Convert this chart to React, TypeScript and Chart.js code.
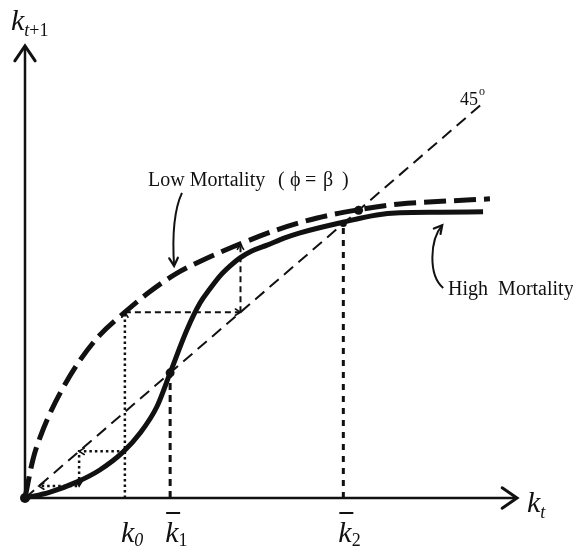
import React, { useEffect, useRef } from "react";
import { Chart, registerables } from "chart.js";
Chart.register(...registerables);

// ---- data (k_t on x, k_{t+1} on y; 45° line is y = x) ----
const lowK = [0, 0.16, 0.31, 0.51, 0.75, 1.12, 1.52, 2.03, 2.5, 3.09, 3.62, 4.23, 5.12, 5.94, 6.77, 7.62, 8.29, 9.45];
const lowV = [0, 0.9, 1.44, 2.0, 2.55, 3.25, 3.84, 4.38, 4.83, 5.3, 5.61, 5.92, 6.32, 6.6, 6.79, 6.93, 6.98, 7.05];
const highK = [0, 0.51, 1.06, 1.52, 1.99, 2.34, 2.68, 2.95, 3.29, 3.56, 3.76, 3.96, 4.17, 4.37, 4.61, 4.92, 5.28, 5.59, 6.46, 7.15, 7.62, 8.44, 9.31];
const highV = [0, 0.14, 0.38, 0.66, 1.08, 1.53, 2.15, 2.95, 3.96, 4.6, 4.93, 5.23, 5.47, 5.66, 5.82, 5.96, 6.13, 6.25, 6.5, 6.67, 6.72, 6.735, 6.745];
const diagEnd = 9.35;
const k0 = 2.03;
const kBar1 = 2.95;
const kBar2 = 6.47;
const kLowSS = 6.78;
const kL1 = 4.38; // next capital under low mortality
const kL1Up = 5.98; // low curve at kL1
const kH1 = 1.1; // next capital under high mortality
const kH2 = 0.28;
const X_MAX = 10;
const Y_MAX = 10.7;

// annotation anchors (data units)
const lowArrow = [[3.19, 7.19], [3.03, 6.79], [2.99, 6.2], [3.03, 5.47]];
const highArrow = [[8.5, 4.95], [8.19, 5.26], [8.23, 6.08], [8.48, 6.43]];
const lowLabelPos = [2.5, 7.35];
const highLabelPos = [8.6, 4.78];
const degLabelPos = [8.84, 9.26];

const lowLabelParts = ["Low Mortality", "(", "ϕ", "=", "β", ")"];
const lowLabelOffsets = [0, 130, 142, 157, 175, 194];
const highLabel = "High  Mortality";

const INK = "#111111";
const SERIF = "'Liberation Serif', 'Times New Roman', 'DejaVu Serif', serif";

function pts(xs: number[], ys: number[]) {
  return xs.map((x, i) => ({ x, y: ys[i] }));
}

function chevron(ctx: CanvasRenderingContext2D, x: number, y: number, ang: number, len: number, h: number, lw: number) {
  ctx.save();
  ctx.lineWidth = lw;
  ctx.lineCap = "round";
  ctx.lineJoin = "miter";
  ctx.beginPath();
  ctx.moveTo(x - len * Math.cos(ang + h), y - len * Math.sin(ang + h));
  ctx.lineTo(x, y);
  ctx.lineTo(x - len * Math.cos(ang - h), y - len * Math.sin(ang - h));
  ctx.stroke();
  ctx.restore();
}

const diagramPlugin = {
  id: "diagram",
  beforeDatasetsDraw(chart: any) {
    const { ctx, chartArea: a } = chart;
    ctx.save();
    ctx.strokeStyle = INK;
    ctx.lineWidth = 2.5;
    ctx.beginPath();
    ctx.moveTo(a.left, a.bottom);
    ctx.lineTo(a.right, a.bottom);
    ctx.moveTo(a.left, a.bottom);
    ctx.lineTo(a.left, a.top + 2);
    ctx.stroke();
    chevron(ctx, a.right, a.bottom, 0, 18, 0.6, 3);
    chevron(ctx, a.left, a.top + 2, -Math.PI / 2, 18, 0.6, 3);
    ctx.restore();
  },
  afterDatasetsDraw(chart: any) {
    const { ctx, chartArea: a } = chart;
    const xs = chart.scales.x;
    const ys = chart.scales.y;
    const px = (v: number) => xs.getPixelForValue(v);
    const py = (v: number) => ys.getPixelForValue(v);
    ctx.save();
    ctx.fillStyle = INK;
    ctx.strokeStyle = INK;
    ctx.textBaseline = "alphabetic";
    ctx.textAlign = "left";

    // small construction arrowheads
    const small = (xv: number, yv: number, ang: number) => chevron(ctx, px(xv), py(yv), ang, 6, 0.55, 1.6);
    small(kL1, kL1, 0);
    small(kL1, kL1Up, -Math.PI / 2);
    small(k0, kL1, -Math.PI / 2);
    small(kH1, kH1, Math.PI);
    small(kH1, kH2, Math.PI / 2);
    small(kH2, kH2, Math.PI);

    // curved annotation arrows
    const drawArrow = (p: number[][]) => {
      const q = p.map(([u, v]) => [px(u), py(v)]);
      ctx.save();
      ctx.lineWidth = 2;
      ctx.beginPath();
      ctx.moveTo(q[0][0], q[0][1]);
      ctx.bezierCurveTo(q[1][0], q[1][1], q[2][0], q[2][1], q[3][0], q[3][1]);
      ctx.stroke();
      const ang = Math.atan2(q[3][1] - q[2][1], q[3][0] - q[2][0]);
      chevron(ctx, q[3][0], q[3][1], ang, 9, 0.5, 2.2);
      ctx.restore();
    };
    drawArrow(lowArrow);
    drawArrow(highArrow);

    // text labels
    ctx.font = `20px ${SERIF}`;
    const lx = px(lowLabelPos[0]);
    const ly = py(lowLabelPos[1]);
    lowLabelParts.forEach((t, i) => ctx.fillText(t, lx + lowLabelOffsets[i], ly));
    ctx.fillText(highLabel, px(highLabelPos[0]), py(highLabelPos[1]));
    ctx.font = `18px ${SERIF}`;
    const dx = px(degLabelPos[0]);
    const dy = py(degLabelPos[1]);
    ctx.fillText("45", dx, dy);
    const w45 = ctx.measureText("45").width;
    ctx.font = `12px ${SERIF}`;
    ctx.fillText("o", dx + w45 + 1, dy - 10);

    const kFont = `italic 30px ${SERIF}`;
    const subI = `italic 18px ${SERIF}`;
    const subR = `18px ${SERIF}`;
    const runs = (x: number, y: number, parts: [string, string, number][]) => {
      let cx = x;
      for (const [t, f, dyy] of parts) {
        ctx.font = f;
        ctx.fillText(t, cx, y + dyy);
        cx += ctx.measureText(t).width;
      }
    };
    // axis titles
    runs(a.left - 14, a.top - 14, [["k", kFont, 0], ["t", subI, 6], ["+1", subR, 6]]);
    runs(a.right + 10, a.bottom + 14, [["k", kFont, 0], ["t", subI, 6]]);
    // k labels under the axis
    const base = a.bottom + 44;
    runs(px(k0) - 4, base, [["k", kFont, 0], ["0", subI, 4]]);
    const kbar = (v: number, sub: string) => {
      const x = px(v) - 5;
      runs(x, base, [["k", kFont, 0], [sub, subR, 4]]);
      ctx.save();
      ctx.lineWidth = 2;
      ctx.beginPath();
      ctx.moveTo(x + 1, base - 29);
      ctx.lineTo(x + 15, base - 29);
      ctx.stroke();
      ctx.restore();
    };
    kbar(kBar1, "1");
    kbar(kBar2, "2");
    ctx.restore();
  },
};

export default function App() {
  const ref = useRef<HTMLCanvasElement>(null);
  useEffect(() => {
    const canvas = ref.current!;
    const line = (data: any[], dash: number[], width: number, extra: any = {}) => ({
      data,
      showLine: true,
      borderColor: INK,
      backgroundColor: INK,
      borderWidth: width,
      borderDash: dash,
      pointRadius: 0,
      pointHoverRadius: 0,
      clip: false,
      ...extra,
    });
    const chart = new Chart(canvas, {
      type: "scatter",
      data: {
        datasets: [
          {
            data: [
              { x: 0, y: 0 },
              { x: kBar1, y: kBar1 },
              { x: kLowSS, y: kLowSS },
              { x: kBar2, y: kBar2 },
            ],
            showLine: false,
            pointRadius: [5, 4.5, 4.5, 3.5],
            pointHoverRadius: [5, 4.5, 4.5, 3.5],
            backgroundColor: INK,
            borderColor: INK,
            borderWidth: 0,
            clip: false,
          } as any,
          line(pts(lowK, lowV), [22, 8], 5, { cubicInterpolationMode: "monotone" }),
          line(pts(highK, highV), [], 5, { cubicInterpolationMode: "monotone" }),
          line([{ x: 0, y: 0 }, { x: diagEnd, y: diagEnd }], [12, 7], 2),
          line([{ x: k0, y: 0 }, { x: k0, y: kL1 }], [2.5, 3], 2.5),
          line([{ x: k0, y: kL1 }, { x: kL1, y: kL1 }], [6, 4], 2),
          line([{ x: kL1, y: kL1 }, { x: kL1, y: kL1Up }], [6, 4], 2),
          line(
            [
              { x: k0, y: kH1 },
              { x: kH1, y: kH1 },
              { x: kH1, y: kH2 },
              { x: kH2, y: kH2 },
            ],
            [2.5, 3],
            2.5
          ),
          line([{ x: kBar1, y: 0 }, { x: kBar1, y: kBar1 }], [7, 5], 3),
          line([{ x: kBar2, y: 0 }, { x: kBar2, y: kBar2 }], [6, 6], 3),
        ],
      },
      options: {
        responsive: false,
        animation: false,
        devicePixelRatio: 1,
        events: [],
        layout: { padding: { left: 25, right: 56, top: 44, bottom: 50 } },
        plugins: { legend: { display: false }, tooltip: { enabled: false } },
        scales: {
          x: { type: "linear", min: 0, max: X_MAX, display: false },
          y: { type: "linear", min: 0, max: Y_MAX, display: false },
        },
      },
      plugins: [diagramPlugin],
    });
    return () => chart.destroy();
  }, []);
  return (
    <div style={{ position: "fixed", left: 0, top: 0, width: 573, height: 548, background: "#fff" }}>
      <canvas ref={ref} width={573} height={548} style={{ display: "block", width: 573, height: 548 }} />
    </div>
  );
}
